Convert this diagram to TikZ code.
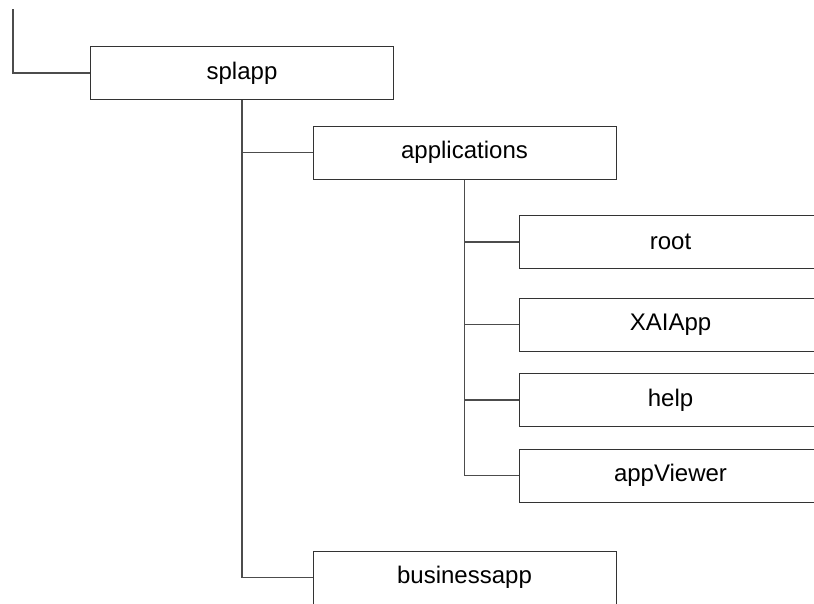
\documentclass[tikz,border=0pt]{standalone}
\usepackage{fontspec}
\setmainfont{Liberation Sans}
\usepackage{tikz}

\tikzset{
	dirbox/.style={draw=black!80, line width=1pt, minimum width=303pt, minimum height=53pt,
		inner sep=0pt, font=\fontsize{24}{28}\selectfont},
	tree/.style={draw=black!70, line width=1.1pt}
}

\begin{document}
\begin{tikzpicture}[x=1pt,y=-1pt]
		\useasboundingbox (0,0) rectangle (814,603);
		\clip (0,0) rectangle (814,603);
		\node[dirbox] (splapp) at (242,73) {splapp};
		\node[dirbox] (applications) at (464.5,152.5) {applications};
		\node[dirbox] (root) at (670.5,242) {root};
		\node[dirbox] (xaiapp) at (670.5,324.5) {XAIApp};
		\node[dirbox] (help) at (670.5,400) {help};
		\node[dirbox] (appviewer) at (670.5,475.5) {appViewer};
		\node[dirbox] (businessapp) at (464.5,577.5) {businessapp};
		\coordinate (top) at (13,9);
		% connectors
		\draw[tree] (top) |- (splapp.west);
		\draw[tree] (splapp.south) |- (businessapp.west);
		\draw[tree] (splapp.south |- applications.west) -- (applications.west);
		\draw[tree] (applications.south) |- (appviewer.west);
		\draw[tree] (applications.south |- root.west) -- (root.west);
		\draw[tree] (applications.south |- xaiapp.west) -- (xaiapp.west);
		\draw[tree] (applications.south |- help.west) -- (help.west);
		\end{tikzpicture}
\end{document}
